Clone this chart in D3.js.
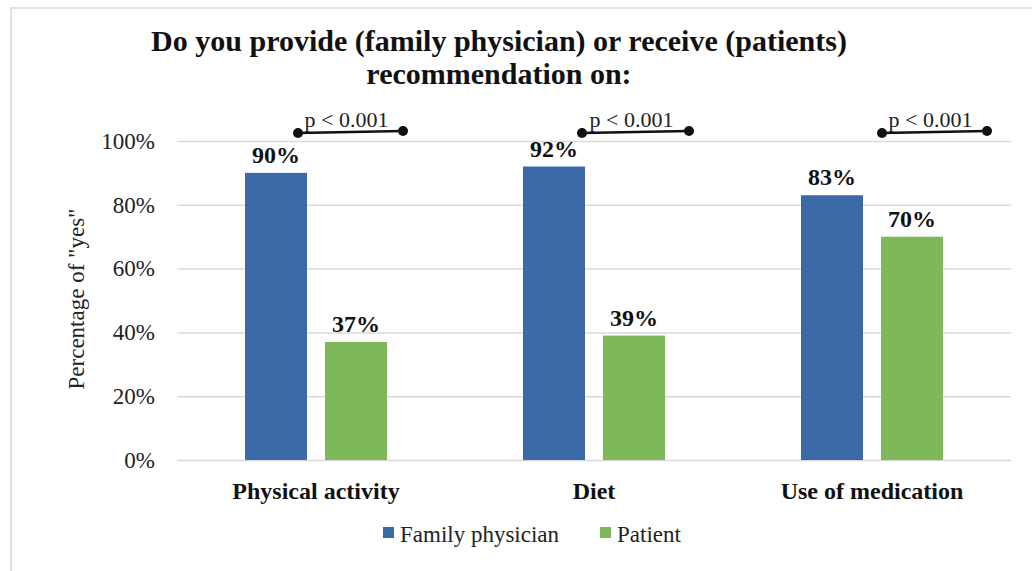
<!DOCTYPE html>
<html>
<head>
<meta charset="utf-8">
<script src="https://cdn.jsdelivr.net/npm/d3@7"></script>
<style>
  body { margin: 0; background: #fff; }
  svg { font-family: "Liberation Serif", "Times New Roman", serif; }
</style>
</head>
<body>
<div id="chart"></div>
<script>
// data
const categories = ["Physical activity", "Diet", "Use of medication"];
const seriesNames = ["Family physician", "Patient"];
const physicianValues = [90, 92, 83];
const patientValues = [37, 39, 70];
const yTicks = [0, 20, 40, 60, 80, 100];
const pLabels = ["p < 0.001", "p < 0.001", "p < 0.001"];

const colors = { "Family physician": "#3c69a8", "Patient": "#7eb85b" };

// bracket ends, pixels from the category centre (hand placed in the original)
const bracketOffsets = [[-18, 87], [-12, 95], [10, 115]];

const W = 1032, H = 571;
const plot = { left: 177, right: 1011, top: 141, bottom: 460 };

const svg = d3.select("#chart").append("svg")
  .attr("width", W)
  .attr("height", H);

// frame of the original figure
svg.append("rect")
  .attr("x", 11).attr("y", 8)
  .attr("width", W).attr("height", H)
  .attr("fill", "none")
  .attr("stroke", "#d9d9d9")
  .attr("stroke-width", 1.5);

const x = d3.scaleBand().domain(categories).range([plot.left, plot.right]).padding(0);
const xSub = d3.scaleBand().domain(seriesNames).range([-71, 71]).paddingInner(0.225);
const y = d3.scaleLinear().domain([0, 100]).range([plot.bottom, plot.top]);

// gridlines + tick labels
const yAxis = d3.axisLeft(y)
  .tickValues(yTicks)
  .tickFormat(d => d + "%")
  .tickSize(-(plot.right - plot.left))
  .tickPadding(22);

const gy = svg.append("g")
  .attr("transform", `translate(${plot.left},0)`)
  .call(yAxis);
gy.select(".domain").remove();
gy.selectAll(".tick line").attr("stroke", "#d9d9d9").attr("stroke-width", 1.5);
gy.selectAll(".tick text")
  .attr("fill", "#222")
  .style("font-size", "23px")
  .style("font-family", "Liberation Serif");

// y title
svg.append("text")
  .attr("transform", "translate(84,299) rotate(-90)")
  .attr("text-anchor", "middle")
  .attr("fill", "#222")
  .style("font-size", "23px")
  .text('Percentage of "yes"');

// title
const title = svg.append("text")
  .attr("text-anchor", "middle")
  .attr("fill", "#111")
  .style("font-size", "30px")
  .style("font-weight", "bold");
title.append("tspan").attr("x", 499).attr("y", 51)
  .text("Do you provide (family physician) or receive (patients)");
title.append("tspan").attr("x", 499).attr("y", 84)
  .text("recommendation on:");

// bars
const rows = categories.map((c, i) => ({
  category: c,
  values: [
    { series: seriesNames[0], value: physicianValues[i] },
    { series: seriesNames[1], value: patientValues[i] }
  ]
}));

const groups = svg.selectAll("g.group")
  .data(rows)
  .enter()
  .append("g")
  .attr("class", "group")
  .attr("transform", d => `translate(${x(d.category) + x.bandwidth() / 2},0)`);

groups.selectAll("rect")
  .data(d => d.values)
  .enter()
  .append("rect")
  .attr("x", d => xSub(d.series))
  .attr("y", d => y(d.value))
  .attr("width", xSub.bandwidth())
  .attr("height", d => y(0) - y(d.value))
  .attr("fill", d => colors[d.series]);

groups.selectAll("text.val")
  .data(d => d.values)
  .enter()
  .append("text")
  .attr("class", "val")
  .attr("x", d => xSub(d.series) + xSub.bandwidth() / 2)
  .attr("y", d => y(d.value) - 10)
  .attr("text-anchor", "middle")
  .attr("fill", "#111")
  .style("font-size", "24px")
  .style("font-weight", "bold")
  .text(d => d.value + "%");

// category labels
svg.selectAll("text.cat")
  .data(categories)
  .enter()
  .append("text")
  .attr("class", "cat")
  .attr("x", d => x(d) + x.bandwidth() / 2)
  .attr("y", 499)
  .attr("text-anchor", "middle")
  .attr("fill", "#111")
  .style("font-size", "24px")
  .style("font-weight", "bold")
  .text(d => d);

// p-value brackets
const brackets = svg.selectAll("g.bracket")
  .data(categories)
  .enter()
  .append("g")
  .attr("class", "bracket")
  .attr("transform", d => `translate(${x(d) + x.bandwidth() / 2},0)`);

brackets.append("line")
  .attr("x1", (d, i) => bracketOffsets[i][0])
  .attr("x2", (d, i) => bracketOffsets[i][1])
  .attr("y1", 133).attr("y2", 131)
  .attr("stroke", "#111")
  .attr("stroke-width", 2.5);

brackets.append("circle")
  .attr("cx", (d, i) => bracketOffsets[i][0])
  .attr("cy", 133).attr("r", 5)
  .attr("fill", "#111");
brackets.append("circle")
  .attr("cx", (d, i) => bracketOffsets[i][1])
  .attr("cy", 131).attr("r", 5)
  .attr("fill", "#111");

brackets.append("text")
  .attr("x", (d, i) => (bracketOffsets[i][0] + bracketOffsets[i][1]) / 2 - 4)
  .attr("y", 127)
  .attr("text-anchor", "middle")
  .attr("fill", "#222")
  .style("font-size", "22px")
  .text((d, i) => pLabels[i]);

// legend
const legendX = [383, 600];
const legend = svg.selectAll("g.legend")
  .data(seriesNames)
  .enter()
  .append("g")
  .attr("class", "legend")
  .attr("transform", (d, i) => `translate(${legendX[i]},527)`);

legend.append("rect")
  .attr("width", 11).attr("height", 11)
  .attr("fill", d => colors[d]);
legend.append("text")
  .attr("x", 17).attr("y", 15)
  .attr("fill", "#222")
  .style("font-size", "23px")
  .text(d => d);
</script>
</body>
</html>
